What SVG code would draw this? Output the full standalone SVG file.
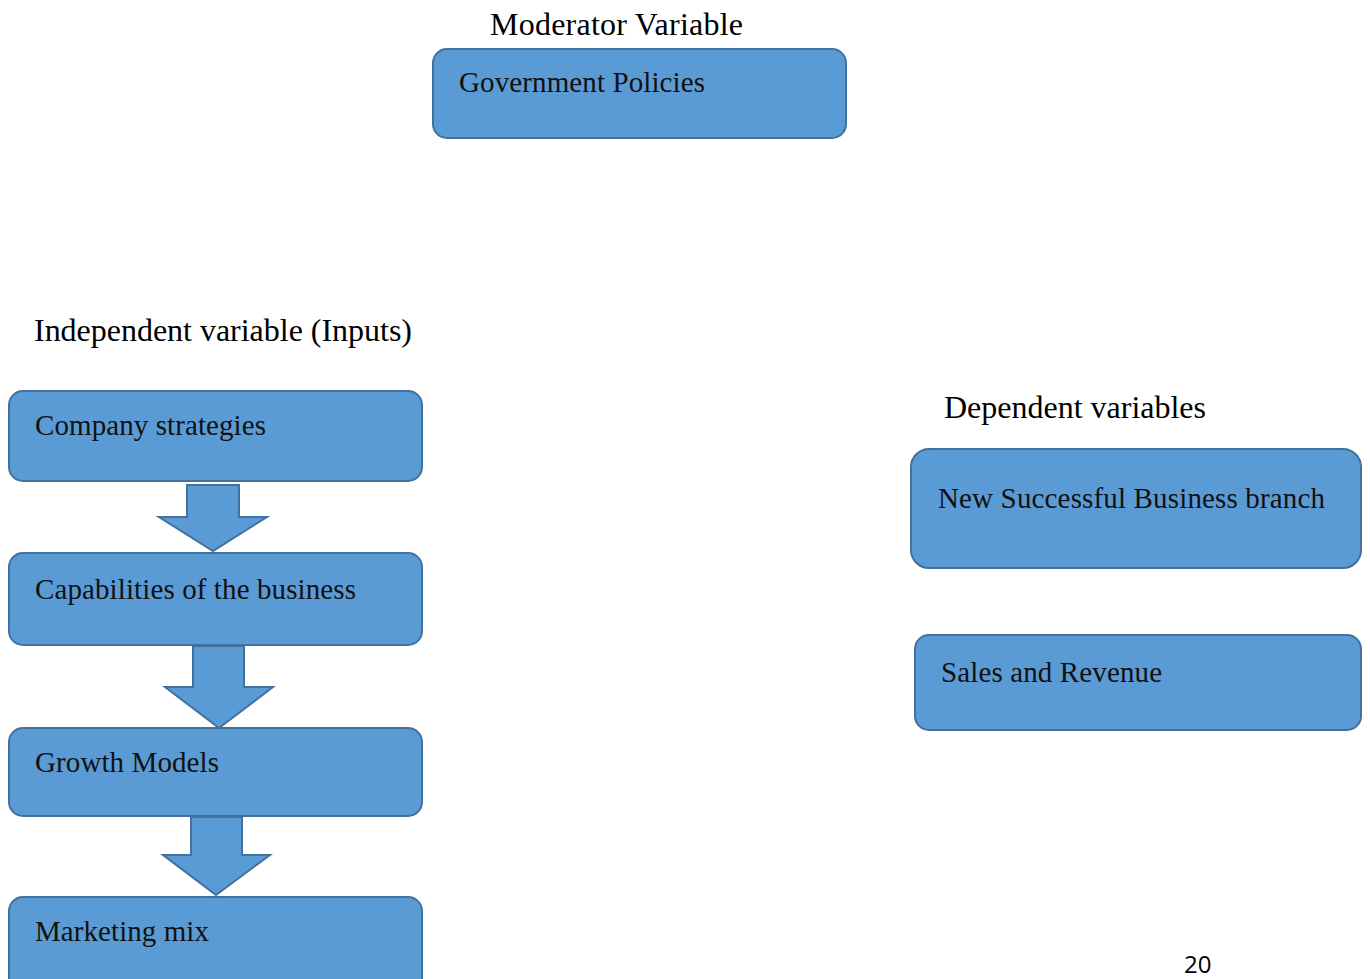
<svg xmlns="http://www.w3.org/2000/svg" width="1370" height="979" viewBox="0 0 1370 979">
<style>
.box{fill:#5B9BD5;stroke:#41719C;stroke-width:2}
.arr{fill:#5B9BD5;stroke:#41719C;stroke-width:2;stroke-linejoin:miter}
.t{font-family:"Liberation Serif","Times New Roman",serif;font-size:32px;fill:#000}
.bt{font-family:"Liberation Serif","Times New Roman",serif;font-size:29px;fill:#111}
.pg{font-family:"Open Sans","Liberation Sans",sans-serif;font-size:24px;fill:#000}
</style>
<rect width="1370" height="979" fill="#fff"/>
<text class="t" x="490" y="35" textLength="253">Moderator Variable</text>
<text class="t" x="34" y="341" textLength="378">Independent variable (Inputs)</text>
<text class="t" x="944" y="418" textLength="262">Dependent variables</text>
<g id="gov"><rect class="box" x="433" y="49" width="413" height="89" rx="14"/><text class="bt" x="459" y="92" textLength="246">Government Policies</text></g>
<g id="company"><rect class="box" x="9" y="391" width="413" height="90" rx="14"/><text class="bt" x="35" y="435" textLength="231">Company strategies</text></g>
<g id="capabilities"><rect class="box" x="9" y="553" width="413" height="92" rx="14"/><text class="bt" x="35" y="599" textLength="321">Capabilities of the business</text></g>
<g id="growth"><rect class="box" x="9" y="728" width="413" height="88" rx="14"/><text class="bt" x="35" y="772" textLength="184">Growth Models</text></g>
<g id="marketing"><rect class="box" x="9" y="897" width="413" height="100" rx="14"/><text class="bt" x="35" y="941" textLength="174">Marketing mix</text></g>
<g id="newbranch"><rect class="box" x="911" y="449" width="450" height="119" rx="18"/><text class="bt" x="938" y="508" textLength="387">New Successful Business branch</text></g>
<g id="sales"><rect class="box" x="915" y="635" width="446" height="95" rx="14"/><text class="bt" x="941" y="682" textLength="221">Sales and Revenue</text></g>
<g id="connectors">
<polygon class="arr" points="187,485 239,485 239,517 267,517 213,551 159,517 187,517"/>
<polygon class="arr" points="193,646 244,646 244,687 273,687 219,728 165,687 193,687"/>
<polygon class="arr" points="191,817 242,817 242,855 270,855 216,895 163,855 191,855"/>
</g>
<text class="pg" x="1184" y="973">20</text>
</svg>
